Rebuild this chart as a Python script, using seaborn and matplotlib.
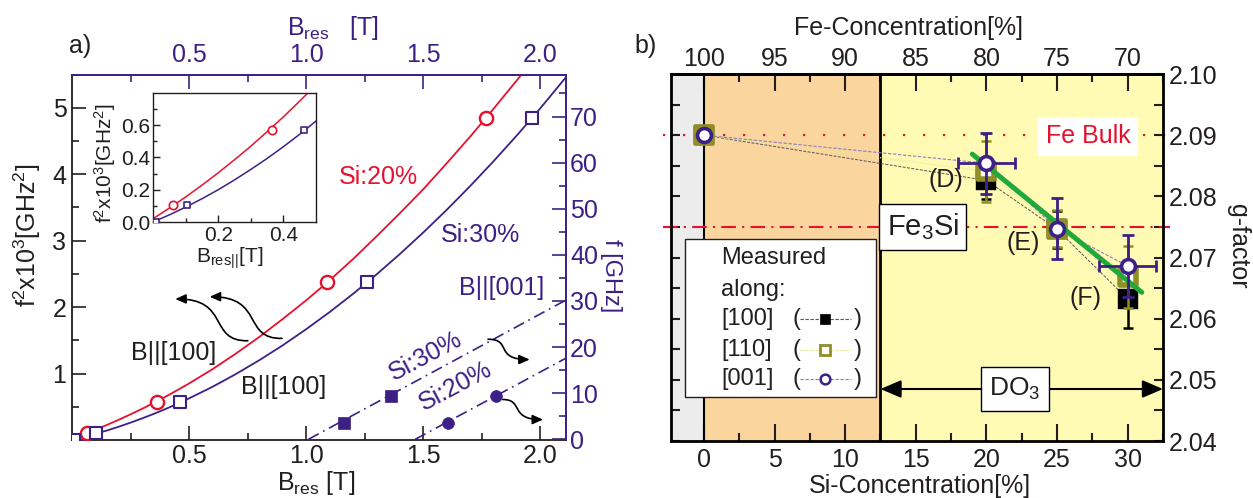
import matplotlib
matplotlib.use("Agg")
import matplotlib.pyplot as plt
import seaborn as sns
from matplotlib.patches import Rectangle, FancyArrowPatch
from matplotlib.path import Path
from matplotlib.ticker import MultipleLocator, FixedLocator, FormatStrFormatter

# ---------------- Panel a data ----------------
res_field_si20 = [0.062, 0.364, 1.091, 1.768]
f2_si20 = [0.105, 0.571, 2.376, 4.84]
res_field_si30 = [0.01, 0.104, 0.462, 1.262, 1.964]
f2_si30 = [0.0, 0.105, 0.571, 2.376, 4.84]

fit_field_si20 = [0.0, 0.05, 0.1, 0.15, 0.2, 0.25, 0.3, 0.35, 0.4, 0.45, 0.5, 0.6, 0.7,
                  0.8, 0.9, 1.0, 1.1, 1.2, 1.3, 1.4, 1.5, 1.6, 1.7, 1.8, 1.9, 1.95]
fit_f2_si20 = [0.02, 0.086, 0.155, 0.228, 0.305, 0.386, 0.470, 0.560, 0.652, 0.75, 0.85, 1.065,
               1.30, 1.55, 1.82, 2.10, 2.40, 2.72, 3.06, 3.41, 3.77, 4.16, 4.56, 4.98, 5.41, 5.63]
fit_field_si30 = [0.0, 0.05, 0.1, 0.15, 0.2, 0.25, 0.3, 0.35, 0.4, 0.45, 0.5, 0.6, 0.7, 0.8,
                  0.9, 1.0, 1.1, 1.2, 1.3, 1.4, 1.5, 1.6, 1.7, 1.8, 1.9, 2.0, 2.12]
fit_f2_si30 = [0.0, 0.044, 0.092, 0.144, 0.200, 0.261, 0.326, 0.394, 0.467, 0.544, 0.626, 0.800,
               0.992, 1.200, 1.424, 1.666, 1.923, 2.197, 2.488, 2.796, 3.120, 3.460, 3.817,
               4.191, 4.581, 4.988, 5.50]

perp_field_si30 = [1.16, 1.364]
perp_freq_si30 = [3.5, 9.35]
perp_field_si20 = [1.606, 1.81]
perp_freq_si20 = [3.5, 9.35]
perp_fit_field_si30 = [1.01, 2.11]
perp_fit_freq_si30 = [0.0, 30.2]
perp_fit_field_si20 = [1.466, 2.11]
perp_fit_freq_si20 = [0.0, 17.6]

field_ticks = [0.5, 1.0, 1.5, 2.0]
f2_ticks = [1, 2, 3, 4, 5]
freq_ticks = [0, 10, 20, 30, 40, 50, 60, 70]
inset_field_ticks = [0.2, 0.4]
inset_f2_ticks = [0.0, 0.2, 0.4, 0.6]

# ---------------- Panel b data ----------------
si_conc = [0, 20, 25, 30]
g_100 = [2.0900, 2.0826, 2.0746, 2.0632]
g_100_err = [0.0, 0.003, 0.003, 0.0048]
g_110 = [2.0900, 2.0841, 2.0747, 2.0668]
g_110_err = [0.0, 0.005, 0.003, 0.005]
g_001 = [2.0900, 2.0854, 2.0747, 2.0686]
g_001_err = [0.0, 0.005, 0.005, 0.005]
si_001_err = [0.0, 2.0, 0.0, 2.0]
fit_si = [19.0, 31.0]
fit_g = [2.0869, 2.0643]
g_fe_bulk = 2.090
g_fe3si = 2.075
si_ticks = [0, 5, 10, 15, 20, 25, 30]
fe_ticks = [100, 95, 90, 85, 80, 75, 70]
g_ticks = [2.04, 2.05, 2.06, 2.07, 2.08, 2.09, 2.10]

# ---------------- style ----------------
sns.set_style("ticks")
plt.rcParams["font.family"] = ["Liberation Sans", "DejaVu Sans"]
plt.rcParams["mathtext.fontset"] = "custom"
plt.rcParams["mathtext.rm"] = "Liberation Sans"
plt.rcParams["mathtext.it"] = "Liberation Sans:italic"
plt.rcParams["mathtext.bf"] = "Liberation Sans:bold"

RED = "#e8112d"
PUR = "#3d2085"
TXT = "#231f20"
OLIVE = "#8f8f26"
GREEN = "#22a83c"
GRAY = "#ececec"
ORANGE = "#fad59e"
YELLOW = "#fffab4"
FS = 18

fig = plt.figure(figsize=(12.53, 4.98), dpi=100)

# =============== Panel a ===============
axa = fig.add_axes([72 / 1253, 58 / 498, 494 / 1253, 365 / 498])
axa.set_xlim(0.0, 2.11)
axa.set_ylim(0.0, 5.49)

sns.lineplot(x=fit_field_si20, y=fit_f2_si20, ax=axa, color=RED, lw=1.3, sort=False,
             estimator=None, zorder=2)
sns.lineplot(x=fit_field_si30, y=fit_f2_si30, ax=axa, color=PUR, lw=1.3, sort=False,
             estimator=None, zorder=2)
sns.scatterplot(x=res_field_si20, y=f2_si20, ax=axa, marker="o", s=9.5 ** 2, color="white",
                edgecolor=RED, linewidth=1.7, zorder=4)
sns.scatterplot(x=res_field_si30, y=f2_si30, ax=axa, marker="s", s=8.5 ** 2, color="white",
                edgecolor=PUR, linewidth=1.5, zorder=4)

axa.set_xticks(field_ticks)
axa.xaxis.set_minor_locator(FixedLocator([0.25, 0.75, 1.25, 1.75]))
axa.xaxis.set_major_formatter(FormatStrFormatter("%.1f"))
axa.set_yticks(f2_ticks)
axa.yaxis.set_minor_locator(MultipleLocator(0.5))
axa.tick_params(which="both", direction="in", top=False, right=False, colors=TXT,
                labelsize=FS, width=1.2)
axa.tick_params(which="major", length=10)
axa.tick_params(which="minor", length=5)
axa.tick_params(axis="x", pad=3)
axa.tick_params(axis="y", pad=4)
for s in ["left", "bottom"]:
    axa.spines[s].set_color(TXT)
    axa.spines[s].set_linewidth(1.3)
for s in ["top", "right"]:
    axa.spines[s].set_color(PUR)
    axa.spines[s].set_linewidth(1.3)

# top axis (same field scale)
sec = axa.secondary_xaxis("top")
sec.set_xticks(field_ticks)
sec.xaxis.set_minor_locator(FixedLocator([0.25, 0.75, 1.25, 1.75]))
sec.xaxis.set_major_formatter(FormatStrFormatter("%.1f"))
sec.tick_params(which="both", direction="in", colors=PUR, labelsize=FS, width=1.2, pad=6)
sec.tick_params(which="major", length=10)
sec.tick_params(which="minor", length=5)
sec.spines["top"].set_color(PUR)
sec.spines["top"].set_linewidth(1.3)

# right axis: frequency
axr = axa.twinx()
axr.set_ylim(-0.15, 79.0)
axr.set_yticks(freq_ticks)
axr.yaxis.set_minor_locator(MultipleLocator(5))
axr.tick_params(which="both", direction="in", colors=PUR, labelsize=FS, width=1.2, pad=3)
axr.tick_params(which="major", length=10)
axr.tick_params(which="minor", length=5)
for s in ["left", "bottom", "top"]:
    axr.spines[s].set_visible(False)
axr.spines["right"].set_color(PUR)
axr.spines["right"].set_linewidth(1.3)

dashdot = (0, (7, 3, 1, 3))
sns.lineplot(x=perp_fit_field_si30, y=perp_fit_freq_si30, ax=axr, color=PUR, lw=1.2,
             linestyle=dashdot, sort=False, estimator=None)
sns.lineplot(x=perp_fit_field_si20, y=perp_fit_freq_si20, ax=axr, color=PUR, lw=1.2,
             linestyle=dashdot, sort=False, estimator=None)
sns.scatterplot(x=perp_field_si30, y=perp_freq_si30, ax=axr, marker="s", s=8 ** 2,
                color=PUR, edgecolor=PUR, linewidth=0.5, zorder=4)
sns.scatterplot(x=perp_field_si20, y=perp_freq_si20, ax=axr, marker="o", s=8.5 ** 2,
                color=PUR, edgecolor=PUR, linewidth=0.5, zorder=4)
axr.set_xlim(0.0, 2.11)

# text in panel a
axa.text(1.309, 3.955, "Si:20%", color=RED, fontsize=FS, ha="center", va="center")
axa.text(1.743, 3.08, "Si:30%", color=PUR, fontsize=FS, ha="center", va="center")
axa.text(1.836, 2.286, "B||[001]", color=PUR, fontsize=FS, ha="center", va="center")
axa.text(0.436, 1.308, "B||[100]", color=TXT, fontsize=FS, ha="center", va="center")
axa.text(0.904, 0.797, "B||[100]", color=TXT, fontsize=FS, ha="center", va="center")
axr.text(1.509, 18.0, "Si:30%", color=PUR, fontsize=FS, ha="center", va="center", rotation=28)
axr.text(1.636, 11.5, "Si:20%", color=PUR, fontsize=FS, ha="center", va="center", rotation=28)


def curly(ax, p0, p1, p2, p3):
    path = Path([p0, p1, p2, p3], [Path.MOVETO, Path.CURVE4, Path.CURVE4, Path.CURVE4])
    arr = FancyArrowPatch(path=path, arrowstyle="-|>,head_length=0.45,head_width=0.2",
                          mutation_scale=14, lw=1.2, color="black", zorder=5)
    ax.add_patch(arr)


curly(axa, (0.751, 1.493), (0.580, 1.478), (0.677, 2.13), (0.441, 2.12))
curly(axa, (0.897, 1.529), (0.726, 1.514), (0.823, 2.155), (0.588, 2.155))
curly(axr, (1.777, 21.7), (1.882, 21.7), (1.801, 17.3), (1.955, 17.3))
curly(axr, (1.840, 8.63), (1.931, 8.63), (1.866, 4.28), (2.012, 4.28))

# inset
axi = fig.add_axes([153 / 1253, (498 - 222) / 498, 163 / 1253, 129 / 498])
axi.set_facecolor("white")
axi.set_xlim(0.0, 0.5)
axi.set_ylim(0.0, 0.80)
sns.lineplot(x=fit_field_si20, y=fit_f2_si20, ax=axi, color=RED, lw=1.1, sort=False,
             estimator=None)
sns.lineplot(x=fit_field_si30, y=fit_f2_si30, ax=axi, color=PUR, lw=1.1, sort=False,
             estimator=None)
sns.scatterplot(x=res_field_si20, y=f2_si20, ax=axi, marker="o", s=6 ** 2, color="white",
                edgecolor=RED, linewidth=1.2, zorder=4)
sns.scatterplot(x=res_field_si30, y=f2_si30, ax=axi, marker="s", s=5 ** 2, color="white",
                edgecolor=PUR, linewidth=1.2, zorder=4)
axi.set_xticks(inset_field_ticks)
axi.xaxis.set_minor_locator(FixedLocator([0.1, 0.3]))
axi.set_yticks(inset_f2_ticks)
axi.yaxis.set_minor_locator(FixedLocator([0.1, 0.3, 0.5, 0.7]))
axi.xaxis.set_major_formatter(FormatStrFormatter("%.1f"))
axi.yaxis.set_major_formatter(FormatStrFormatter("%.1f"))
axi.tick_params(which="both", direction="in", colors=TXT, labelsize=15, width=1.0)
axi.tick_params(which="major", length=5)
axi.tick_params(which="minor", length=3)
axi.tick_params(axis="y", pad=2)
axi.tick_params(axis="x", pad=3)
for s in axi.spines.values():
    s.set_color(TXT)
    s.set_linewidth(1.0)

# labels panel a
fig.text(80 / 1253, 1 - 46 / 498, "a)", fontsize=FS, color=TXT, ha="center", va="center")
fig.text(287 / 1253, 1 - 35 / 498, r"B$_{\mathrm{res}}$   [T]", fontsize=FS, color=PUR,
         ha="left", va="baseline")
fig.text(277 / 1253, 1 - 490 / 498, r"B$_{\mathrm{res}}$ [T]", fontsize=FS, color=TXT,
         ha="left", va="baseline")
fig.text(27 / 1253, 1 - 235 / 498, r"f$^2$x10$^3$[GHz$^2$]", fontsize=FS, color=TXT,
         ha="center", va="center", rotation=90)
fig.text(611 / 1253, 1 - 276 / 498, "f [GHz]", fontsize=17, color=PUR,
         ha="center", va="center", rotation=270)
fig.text(105 / 1253, 1 - 163 / 498, r"f$^2$x10$^3$[GHz$^2$]", fontsize=15, color=TXT,
         ha="center", va="center", rotation=90)
fig.text(196 / 1253, 1 - 263 / 498, r"B$_{\mathrm{res||}}$[T]", fontsize=15, color=TXT,
         ha="left", va="baseline")

# =============== Panel b ===============
axb = fig.add_axes([671 / 1253, 57 / 498, 492 / 1253, 367 / 498])
axb.set_xlim(-2.33, 32.5)
axb.set_ylim(2.04, 2.10)
axb.axvspan(-2.33, 0, color=GRAY, zorder=0, lw=0)
axb.axvspan(0, 12.5, color=ORANGE, zorder=0, lw=0)
axb.axvspan(12.5, 32.5, color=YELLOW, zorder=0, lw=0)
axb.axvline(0, color="black", lw=1.5, zorder=1)
axb.axvline(12.5, color="black", lw=2.0, zorder=1)

axb.plot([-2.9, 33.0], [g_fe_bulk, g_fe_bulk], color=RED, lw=1.6, linestyle=(0, (1, 8)),
         clip_on=False, zorder=1)
axb.plot([-2.9, 33.0], [g_fe3si, g_fe3si], color=RED, lw=1.5, linestyle=(0, (7, 3, 1, 3)),
         clip_on=False, zorder=1)

# thin connecting lines
sns.lineplot(x=si_conc, y=g_100, ax=axb, color="#555555", lw=0.7, linestyle=(0, (3, 1.5)),
             sort=False, estimator=None, zorder=2)
sns.lineplot(x=si_conc, y=g_110, ax=axb, color="#e6ea9a", lw=0.9, linestyle=(0, (1, 1)),
             sort=False, estimator=None, zorder=2)
sns.lineplot(x=si_conc, y=g_001, ax=axb, color="#8c7fc0", lw=0.8, linestyle=(0, (3, 1.5)),
             sort=False, estimator=None, zorder=2)

# [100]
axb.errorbar(si_conc, g_100, yerr=g_100_err, fmt="none", ecolor="black", elinewidth=1.8,
             capsize=3.5, capthick=1.8, zorder=3)
sns.scatterplot(x=si_conc, y=g_100, ax=axb, marker="s", s=15 ** 2, color="black",
                edgecolor="black", linewidth=0.3, zorder=3.2)
# [110]
axb.errorbar(si_conc, g_110, yerr=g_110_err, fmt="none", ecolor=OLIVE, elinewidth=1.8,
             capsize=3.5, capthick=1.8, zorder=3.5)
sns.scatterplot(x=si_conc, y=g_110, ax=axb, marker="s", s=11.5 ** 2, color="white",
                edgecolor=OLIVE, linewidth=4.0, zorder=4)
# fit
sns.lineplot(x=fit_si, y=fit_g, ax=axb, color=GREEN, lw=3.6, sort=False, estimator=None,
             zorder=5)
# [001]
axb.errorbar(si_conc, g_001, yerr=g_001_err, xerr=si_001_err, fmt="none", ecolor=PUR,
             elinewidth=2.0, capsize=4, capthick=2.0, zorder=5.5)
sns.scatterplot(x=si_conc, y=g_001, ax=axb, marker="o", s=10 ** 2, color="white",
                edgecolor=PUR, linewidth=2.6, zorder=6)

axb.set_xticks(si_ticks)
axb.xaxis.set_minor_locator(MultipleLocator(2.5))
axb.set_yticks(g_ticks)
axb.yaxis.set_minor_locator(MultipleLocator(0.005))
axb.yaxis.set_major_formatter(FormatStrFormatter("%.2f"))
axb.tick_params(which="both", direction="in", colors=TXT, labelsize=FS, width=1.5,
                top=False, left=True, right=True, labelleft=False, labelright=True)
axb.tick_params(axis="x", which="major", length=12, pad=5)
axb.tick_params(axis="x", which="minor", length=6)
axb.tick_params(axis="y", which="both", length=6.5, pad=4)
for s in axb.spines.values():
    s.set_color("black")
    s.set_linewidth(2.0)
    s.set_zorder(10)

secb = axb.secondary_xaxis("top", functions=(lambda x: 100 - x, lambda x: 100 - x))
secb.set_xticks(fe_ticks)
secb.xaxis.set_minor_locator(MultipleLocator(2.5))
secb.tick_params(which="both", direction="in", colors=TXT, labelsize=FS, width=1.5, pad=2)
secb.tick_params(which="major", length=12)
secb.tick_params(which="minor", length=6)
secb.spines["top"].set_linewidth(2.0)
secb.spines["top"].set_color("black")

# annotations panel b
axb.text(27.2, 2.0898, "Fe Bulk", color=RED, fontsize=FS, ha="center", va="center",
         zorder=8, bbox=dict(boxstyle="square,pad=0.3", fc="white", ec="none"))
axb.text(15.5, g_fe3si, r"Fe$_3$Si", color=TXT, fontsize=21, ha="center", va="center",
         zorder=8, bbox=dict(boxstyle="square,pad=0.25", fc="white", ec="black", lw=1.0))
axb.text(17.1, 2.0826, "(D)", color=TXT, fontsize=FS, ha="center", va="center", zorder=7)
axb.text(22.6, 2.0724, "(E)", color=TXT, fontsize=FS, ha="center", va="center", zorder=7)
axb.text(27.0, 2.0633, "(F)", color=TXT, fontsize=FS, ha="center", va="center", zorder=7)
axb.annotate("", xy=(12.5, 2.0485), xytext=(32.5, 2.0485),
             arrowprops=dict(arrowstyle="<|-|>,head_length=0.7,head_width=0.3",
                             color="black", lw=1.5, mutation_scale=18, shrinkA=0, shrinkB=0),
             zorder=7)
axb.text(22.0, 2.0485, r"DO$_3$", color=TXT, fontsize=19, ha="center", va="center",
         zorder=8, bbox=dict(boxstyle="square,pad=0.32", fc="white", ec="black", lw=1.0))

# legend box
axb.add_patch(Rectangle((0.0285, 0.1202), 0.3882, 0.429, transform=axb.transAxes,
                        fc="white", ec=TXT, lw=1.0, zorder=8))
LFS = 17
axb.text(0.1016, 0.500, "Measured", transform=axb.transAxes, fontsize=LFS, color=TXT,
         ha="left", va="center", zorder=9)
axb.text(0.1016, 0.4126, "along:", transform=axb.transAxes, fontsize=LFS, color=TXT,
         ha="left", va="center", zorder=9)
legend_rows = [
    ("[100]", 0.3333, dict(marker="s", ms=7, mfc="black", mec="black", mew=0.5),
     "#555555"),
    ("[110]", 0.2486, dict(marker="s", ms=6.5, mfc="white", mec=OLIVE, mew=2.0), "#e6ea9a"),
    ("[001]", 0.1694, dict(marker="o", ms=7, mfc="white", mec=PUR, mew=1.8), "#8c7fc0"),
]
for lab, yy, mk, lc in legend_rows:
    axb.text(0.1016, yy, lab, transform=axb.transAxes, fontsize=LFS, color=TXT,
             ha="left", va="center", zorder=9)
    axb.text(0.246, yy, "(", transform=axb.transAxes, fontsize=LFS, color=TXT,
             ha="left", va="center", zorder=9)
    axb.text(0.372, yy, ")", transform=axb.transAxes, fontsize=LFS, color=TXT,
             ha="left", va="center", zorder=9)
    axb.plot([0.262, 0.366], [yy, yy], transform=axb.transAxes, color=lc, lw=0.8,
             linestyle=(0, (3, 1.5)), zorder=9, clip_on=False)
    axb.plot([0.313], [yy], transform=axb.transAxes, linestyle="none", zorder=10,
             clip_on=False, **mk)

fig.text(646 / 1253, 1 - 46 / 498, "b)", fontsize=FS, color=TXT, ha="center", va="center")
fig.text(908 / 1253, 1 - 35 / 498, "Fe-Concentration[%]", fontsize=FS, color=TXT,
         ha="center", va="baseline")
fig.text(920 / 1253, 1 - 493 / 498, "Si-Concentration[%]", fontsize=FS, color=TXT,
         ha="center", va="baseline")
fig.text(1238 / 1253, 1 - 246 / 498, "g-factor", fontsize=FS, color=TXT,
         ha="center", va="center", rotation=270)

fig.savefig("out.png", dpi=100)
